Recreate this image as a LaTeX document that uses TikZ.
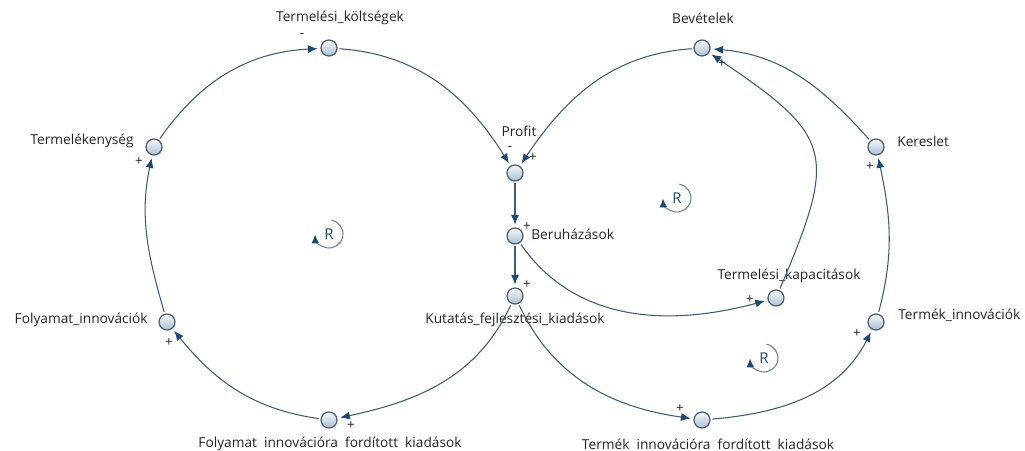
\documentclass[tikz,border=0pt]{standalone}
\usepackage{fontspec}
\setmainfont{Open Sans}
\usetikzlibrary{arrows.meta}
\definecolor{edge}{HTML}{3D5A75}
\definecolor{tip}{HTML}{1E4A6D}
\definecolor{ink}{HTML}{222222}
\definecolor{rim}{HTML}{4F5A64}
\definecolor{bulbtop}{HTML}{F4F7FA}
\definecolor{bulbbot}{HTML}{A9C1D6}
\definecolor{loopc}{HTML}{6C8094}
\begin{document}
\begin{tikzpicture}[x=0.02cm,y=0.02cm,
  var/.style={circle, draw=rim, line width=0.7pt, top color=bulbtop, bottom color=bulbbot,
              minimum size=0.32cm, inner sep=0pt},
  lbl/.style={text=ink, font=\fontsize{7.8}{9}\selectfont, inner sep=0pt},
  sgn/.style={text=ink, font=\fontsize{7.6}{8}\selectfont, inner sep=0pt},
  link/.style={draw=edge, line width=0.6pt, -{Latex[length=5.5pt,width=4.6pt,color=tip]},
               shorten >=1.6pt, shorten <=1pt},
  rloop/.style={draw=loopc, line width=0.6pt, -{Latex[length=5pt,width=4.4pt,color=tip]}},
  rmark/.style={text=tip, font=\fontsize{8.5}{9}\selectfont, inner sep=0pt}]
\useasboundingbox (0,0) rectangle (1025,450);

% variables
\node[var] (tk)  at (329,402) {};
\node[var] (bev) at (702,402) {};
\node[var] (pro) at (515,277) {};
\node[var] (ber) at (515,214) {};
\node[var] (kut) at (515,154) {};
\node[var] (tme) at (154,303) {};
\node[var] (fi)  at (167,128) {};
\node[var] (fik) at (329,30) {};
\node[var] (tik) at (702,30) {};
\node[var] (ker) at (876,303) {};
\node[var] (ti)  at (876,128) {};
\node[var] (kap) at (776,152) {};

% variable names
\node[lbl] (tkL)  at (340,432) {Termelési\_költségek};
\node[lbl] (bevL) at (703,432) {Bevételek};
\node[lbl] (proL) at (519,319) {Profit};
\node[lbl, anchor=west] (berL) at (531,216) {Beruházások};
\node[lbl] (kutL) at (515,130) {Kutatás\_fejlesztési\_kiadások};
\node[lbl, anchor=east] (tmeL) at (134,309) {Termelékenység};
\node[lbl, anchor=east] (fiL)  at (148,130) {Folyamat\_innovációk};
\node[lbl] (fikL) at (330,6) {Folyamat\ \ innovációra\ \ fordított\ \ kiadások};
\node[lbl] (tikL) at (708,6) {Termék\ \ innovációra\ \ fordított\ \ kiadások};
\node[lbl, anchor=west] (kerL) at (897,309) {Kereslet};
\node[lbl, anchor=west] (tiL)  at (898,135) {Termék\_innovációk};
\node[lbl] (kapL) at (789,174) {Termelési\_kapacitások};

% causal links
\draw[link] (tk)  to[out=-4, in=122] (pro);
\draw[link] (pro) -- (ber);
\draw[link] (ber) -- (kut);
\draw[link] (kut) to[out=-115, in=12] (fik);
\draw[link] (fik) to[out=172, in=-51] (fi);
\draw[link] (fi)  to[out=106, in=-102] (tme);
\draw[link] (tme) to[out=55, in=183] (tk);

\draw[link] (kut) to[out=-65, in=172] (tik);
\draw[link] (tik) to[out=5, in=-117] (ti);
\draw[link] (ti)  to[out=75, in=-78] (ker);
\draw[link] (ker) to[out=132, in=-5] (bev);
\draw[link] (bev) to[out=184, in=56] (pro);

\draw[link] (ber) to[out=-55, in=195] (kap);
\draw[link] (kap) to[out=67, in=-34, looseness=1.55] (bev);

% polarities
\node[sgn] (s1)  at (302,415) {-};
\node[sgn] (s2)  at (510,302) {-};
\node[sgn] (s3)  at (533,292) {+};
\node[sgn] (s4)  at (527,223) {+};
\node[sgn] (s5)  at (527,165) {+};
\node[sgn] (s6)  at (722,386) {+};
\node[sgn] (s7)  at (139,288) {+};
\node[sgn] (s8)  at (169,107) {+};
\node[sgn] (s9)  at (351,24)  {+};
\node[sgn] (s10) at (680,41)  {+};
\node[sgn] (s11) at (857,116) {+};
\node[sgn] (s12) at (870,283) {+};
\node[sgn] (s13) at (750,150) {+};

% reinforcing loop markers
\node[rmark] (r1) at (329,216) {R};
\draw[rloop] ([shift={(80:14)}]r1.center) arc[start angle=80, end angle=-178, radius=14];
\node[rmark] (r2) at (677,252) {R};
\draw[rloop] ([shift={(80:14)}]r2.center) arc[start angle=80, end angle=-178, radius=14];
\node[rmark] (r3) at (764,92) {R};
\draw[rloop] ([shift={(80:14)}]r3.center) arc[start angle=80, end angle=-178, radius=14];
\end{tikzpicture}
\end{document}
